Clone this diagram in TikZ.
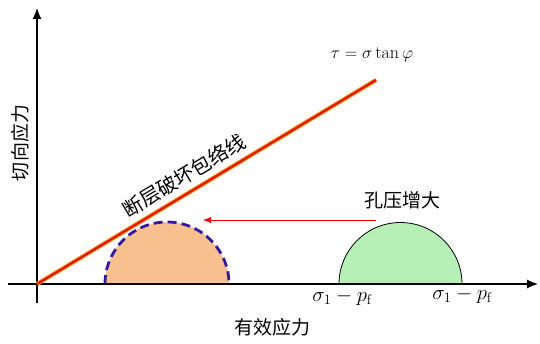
\documentclass[tikz,border=0pt]{standalone}
\usepackage{fontspec}
\newfontfamily\cjk{Noto Sans CJK SC}
\usetikzlibrary{arrows.meta,positioning,calc}
\definecolor{mohrOrange}{RGB}{249, 192, 143}
\definecolor{mohrGreen}{RGB}{182, 240, 182}
\definecolor{mohrBlue}{RGB}{52, 24, 160}
\definecolor{mohrRed}{RGB}{222, 30, 10}
\definecolor{mohrAmber}{RGB}{255, 160, 30}
\begin{document}
\begin{tikzpicture}[
  x=1pt, y=1pt,
  axis/.style={line width=1.1pt,-{Latex[length=11pt,width=9pt]}},
  cjklabel/.style={font=\cjk\fontsize{19}{21}\selectfont},
  mathlabel/.style={font=\fontsize{18}{20}\selectfont},
  arrow/.style={-{Latex[length=8pt,width=6pt]},thin,red}
]
  \useasboundingbox (-37,-59) rectangle (503,284);
  % circles
  \fill[mohrOrange] (68,0) arc (180:0:62) -- cycle;
  \draw[mohrBlue,line width=2.8pt,dash pattern=on 9pt off 5pt] (68,0) arc (180:0:62);
  \filldraw[fill=mohrGreen,draw=black,thick] (302,0) arc (180:0:61.5) -- cycle;
  % axes
  \coordinate (O) at (0,0);
  \coordinate (xS) at (-29,0);
  \coordinate (xE) at (501,0);
  \coordinate (yS) at (0,-19);
  \coordinate (yE) at (0,276);
  \draw[axis] (xS) -- (xE);
  \draw[axis] (yS) -- (yE);
  % envelope
  \coordinate (env) at (339,204);
  \draw[mohrAmber,line width=4.2pt] (O) -- (env);
  \draw[mohrRed,line width=2.4pt] (O) -- (env)
    node[cjklabel,font=\cjk\fontsize{20}{22}\selectfont,text=black,sloped,above=3pt,pos=0.46] (envlabel) {断层破坏包络线};
  % pressure shift
  \coordinate (shiftS) at (339,64);
  \coordinate (shiftE) at (166,64);
  \draw[arrow] (shiftS) -- (shiftE);
  \node[cjklabel] (pp) at (365,84) {孔压增大};
  \node[mathlabel] (law) at (335,229) {$\tau=\sigma\tan\varphi$};
  \node[mathlabel,font=\fontsize{20}{22}\selectfont] (s1) at (305,-13) {$\sigma_1-p_{\mathrm{f}}$};
  \node[mathlabel,font=\fontsize{20}{22}\selectfont] (s2) at (425,-11) {$\sigma_1-p_{\mathrm{f}}$};
  \node[cjklabel] (xlab) at (235,-43) {有效应力};
  \node[cjklabel,rotate=90] (ylab) at (-17,141) {切向应力};
\end{tikzpicture}
\end{document}
